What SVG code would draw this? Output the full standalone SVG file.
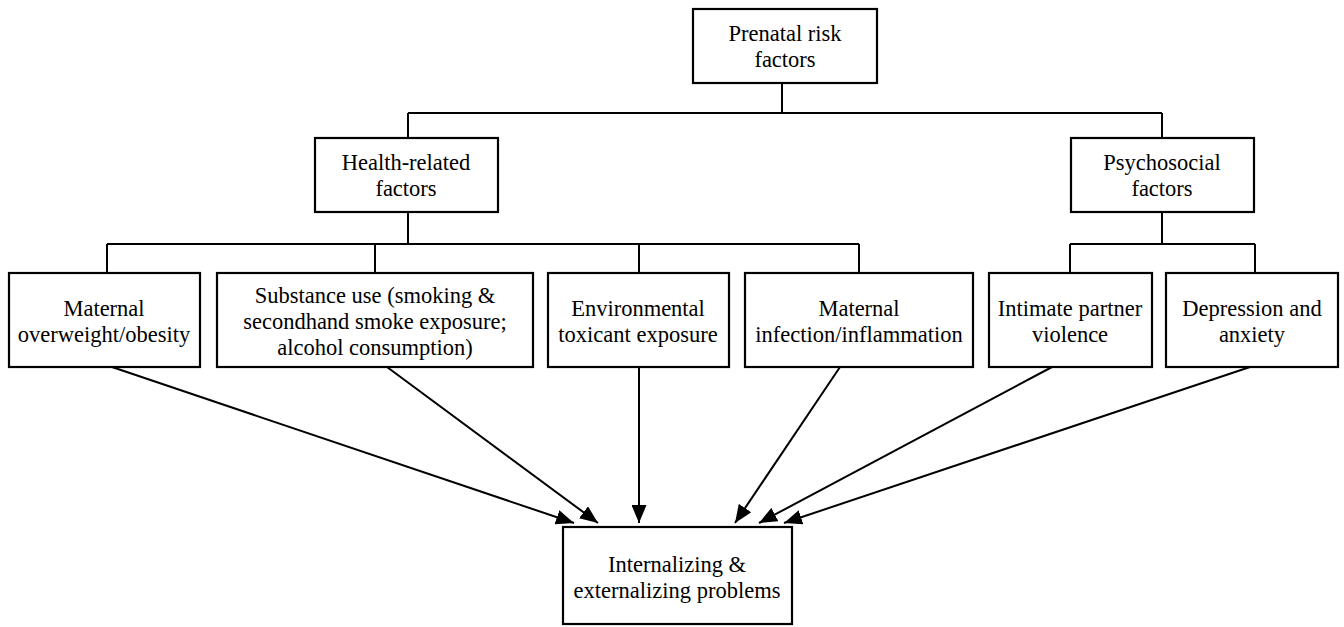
<svg xmlns="http://www.w3.org/2000/svg" width="1344" height="627" viewBox="0 0 1344 627">
<style>
.box{fill:#fff;stroke:#000;stroke-width:2.2}
.t{font-family:"Liberation Serif","Times New Roman",serif;font-size:22.5px;fill:#000;text-anchor:middle}
.ln{fill:none;stroke:#000;stroke-width:2}
</style>
<defs>
<marker id="ah" markerUnits="userSpaceOnUse" markerWidth="19" markerHeight="15" refX="18" refY="7.5" orient="auto">
<path d="M0,0 L18,7.5 L0,15 z" fill="#000"/>
</marker>
</defs>
<rect width="1344" height="627" fill="#fff"/>
<g id="connectors">
<path class="ln" d="M782,83 V113 M408,113 H1162 M408,113 V138 M1162,113 V138"/>
<path class="ln" d="M408,212 V244 M107,244 H859 M107,244 V273 M375,244 V273 M639,244 V273 M859,244 V273"/>
<path class="ln" d="M1162,212 V244 M1070,244 H1255 M1070,244 V273 M1255,244 V273"/>
<line class="ln" x1="112" y1="367" x2="574" y2="523" marker-end="url(#ah)"/>
<line class="ln" x1="387" y1="367" x2="598" y2="523" marker-end="url(#ah)"/>
<line class="ln" x1="639" y1="367" x2="639" y2="523" marker-end="url(#ah)"/>
<line class="ln" x1="840" y1="367" x2="735" y2="523" marker-end="url(#ah)"/>
<line class="ln" x1="1052" y1="367" x2="759" y2="523" marker-end="url(#ah)"/>
<line class="ln" x1="1250" y1="367" x2="784" y2="523" marker-end="url(#ah)"/>
</g>
<g id="prenatal">
<rect class="box" x="693" y="9" width="184" height="74"/>
<text class="t" x="785" y="41">Prenatal risk</text>
<text class="t" x="785" y="67">factors</text>
</g>
<g id="health">
<rect class="box" x="315" y="138" width="183" height="74"/>
<text class="t" x="406" y="170">Health-related</text>
<text class="t" x="406" y="196">factors</text>
</g>
<g id="psychosocial">
<rect class="box" x="1071" y="138" width="183" height="74"/>
<text class="t" x="1162" y="170">Psychosocial</text>
<text class="t" x="1162" y="196">factors</text>
</g>
<g id="overweight">
<rect class="box" x="9" y="273" width="191" height="94"/>
<text class="t" x="104" y="316">Maternal</text>
<text class="t" x="104" y="342">overweight/obesity</text>
</g>
<g id="substance">
<rect class="box" x="217" y="273" width="316" height="94"/>
<text class="t" x="375" y="303">Substance use (smoking &amp;</text>
<text class="t" x="375" y="329">secondhand smoke exposure;</text>
<text class="t" x="375" y="355">alcohol consumption)</text>
</g>
<g id="environmental">
<rect class="box" x="548" y="273" width="181" height="94"/>
<text class="t" x="638" y="316">Environmental</text>
<text class="t" x="638" y="342">toxicant exposure</text>
</g>
<g id="infection">
<rect class="box" x="745" y="273" width="228" height="94"/>
<text class="t" x="859" y="316">Maternal</text>
<text class="t" x="859" y="342">infection/inflammation</text>
</g>
<g id="ipv">
<rect class="box" x="989" y="273" width="163" height="94"/>
<text class="t" x="1070" y="316">Intimate partner</text>
<text class="t" x="1070" y="342">violence</text>
</g>
<g id="depression">
<rect class="box" x="1166" y="273" width="172" height="94"/>
<text class="t" x="1252" y="316">Depression and</text>
<text class="t" x="1252" y="342">anxiety</text>
</g>
<g id="outcome">
<rect class="box" x="563" y="527" width="229" height="97"/>
<text class="t" x="677" y="572">Internalizing &amp;</text>
<text class="t" x="677" y="598">externalizing problems</text>
</g>
</svg>
